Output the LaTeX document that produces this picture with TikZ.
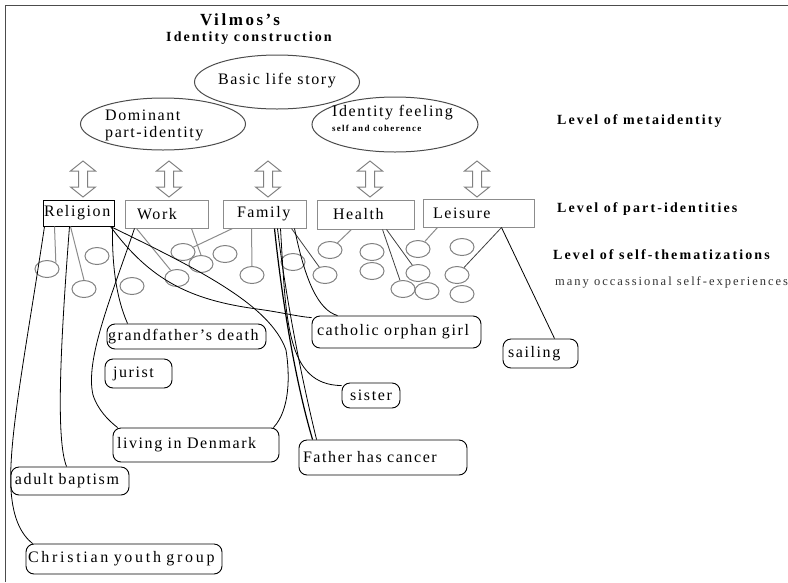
\documentclass[tikz,border=0pt]{standalone}
\usepackage{fontspec}
\setmainfont{Liberation Serif}
\newfontfamily\lbl{Liberation Serif}[LetterSpace=10]
\newfontfamily\hdr{Liberation Serif}[LetterSpace=15]
\newfontfamily\sacfnt{Liberation Serif}[LetterSpace=14]
\newfontfamily\manyfnt{Liberation Serif}[LetterSpace=16]
\newfontfamily\widelbl{Liberation Serif}[LetterSpace=17]
\usetikzlibrary{shapes.geometric,calc}

\tikzset{
  oval/.style={ellipse, draw=black!70, line width=1pt, inner sep=0pt},
  txt/.style={inner sep=0pt, font=\lbl\fontsize{16}{17}\selectfont},
  partbox/.style={draw=black!45, line width=1pt, minimum height=28pt, inner ysep=0pt,
    align=left, font=\lbl\fontsize{16}{18}\selectfont},
  labbox/.style={draw=black, line width=0.9pt, rounded corners=8pt, inner xsep=4pt,
    inner ysep=0pt, align=left, font=\lbl\fontsize{16}{18}\selectfont},
  selfdot/.style={ellipse, draw=black!50, line width=1pt, minimum width=24pt,
    minimum height=17pt, inner sep=0pt},
  levtxt/.style={anchor=west, inner sep=0pt, font=\hdr\bfseries\fontsize{14}{16}\selectfont},
  conn/.style={draw=black, line width=0.8pt},
  stem/.style={draw=black!45, line width=1pt},
  dstem/.style={draw=black!75, line width=0.8pt},
  dblarrow/.pic={\draw[black!50, line width=1pt, line join=miter]
    (0,-18) -- (12.5,-8) -- (4.5,-8) -- (4.5,8) -- (12.5,8) -- (0,18)
    -- (-12.5,8) -- (-4.5,8) -- (-4.5,-8) -- (-12.5,-8) -- cycle;}
}

\begin{document}
\begin{tikzpicture}[x=1pt,y=-1pt]
\useasboundingbox (0,0) rectangle (788,582);
% frame lines
\draw[black!70, line width=1pt] (5,582) -- (5,5) -- (788,5);

% title
\node[inner sep=0pt, font=\hdr\bfseries\fontsize{17}{19}\selectfont] (title1) at (240,20) {Vilmos’s};
\node[inner sep=0pt, font=\hdr\bfseries\fontsize{14}{16}\selectfont] (title2) at (249,38) {Identity construction};

% metaidentity level
\node[oval, minimum width=165pt, minimum height=54pt] (bls) at (277,82) {};
\node[oval, minimum width=165pt, minimum height=52pt] (dom) at (163,124) {};
\node[oval, minimum width=166pt, minimum height=55pt] (idf) at (395,124.5) {};
\node[txt] (blst) at (277,81) {Basic life story};
\node[txt, anchor=west, align=left] (domt) at (105,125.5) {Dominant\\part-identity};
\node[txt, anchor=west] (idft) at (332,113) {Identity feeling};
\node[anchor=west, inner sep=0pt, font=\sacfnt\bfseries\fontsize{9}{10}\selectfont] (sact) at (332,128) {self and coherence};

% double arrows between the levels
\pic (ar1) at (83,179) {dblarrow};
\pic (ar2) at (169,179) {dblarrow};
\pic (ar3) at (268,179) {dblarrow};
\pic (ar4) at (370,179) {dblarrow};
\pic (ar5) at (477,179) {dblarrow};

% part-identities
\node[partbox, draw=black, inner xsep=1pt, text width=69pt, minimum height=26pt] (rel) at (78.5,213) {Religion};
\node[partbox, inner xsep=12pt, text width=59pt] (work) at (166.5,214) {Work};
\node[partbox, inner xsep=14pt, text width=55pt] (fam) at (264.5,214) {Family};
\node[partbox, inner xsep=16pt, text width=65pt, minimum height=29pt] (hea) at (365.5,214.5) {Health};
\node[partbox, inner xsep=10pt, text width=91pt] (lei) at (478.5,213) {Leisure};

% level captions
\node[levtxt] (lev1) at (557,121) {Level of metaidentity};
\node[levtxt] (lev2) at (557,209) {Level of part-identities};
\node[levtxt] (lev3) at (553,255) {Level of self-thematizations};
\node[anchor=west, inner sep=0pt, text=black!80, font=\manyfnt\fontsize{12.5}{14}\selectfont] (lev4) at (555,282) {many occassional self-experiences};

% self-thematizations
\foreach \n/\x/\y in {1/47/269, 2/97/256, 3/84/289, 4/132/286, 5/183/252, 6/201/264,
  7/225/254, 8/177/278, 9/252/275, 10/293/262, 11/330/250, 12/325/275, 13/372/252,
  14/372/271, 15/418/249, 16/418/273, 17/403/289, 18/427/291, 19/462/247, 20/457/275,
  21/462/294}
  \node[selfdot] (c\n) at (\x,\y) {};

% experiences
\node[labbox, inner xsep=1pt, text width=157pt, minimum height=25pt] (gd) at (186.5,336.5) {grandfather’s death};
\node[labbox, inner xsep=8pt, text width=51pt, minimum height=29pt] (jur) at (138.5,373.5) {jurist};
\node[labbox, text width=158pt, minimum height=34pt] (lid) at (196,445) {living in Denmark};
\node[labbox, inner xsep=5pt, text width=159pt, minimum height=32pt] (cog) at (396.5,332) {catholic orphan girl};
\node[labbox, inner xsep=5pt, text width=65pt, minimum height=29pt] (sail) at (540.5,353.5) {sailing};
\node[labbox, align=center, text width=50pt, minimum height=25pt] (sis) at (371,395.5) {sister};
\node[labbox, text width=160pt, minimum height=35pt] (fhc) at (383,457.5) {Father has cancer};
\node[labbox, text width=110pt, minimum height=28pt] (ab) at (70,481) {adult baptism};
\node[labbox, inner xsep=2pt, text width=192pt, minimum height=30pt,
  font=\widelbl\fontsize{16}{18}\selectfont] (cyg) at (124,559) {Christian youth group};

% stems from the part-identities to their self-thematizations
\draw[stem] ([xshift=12pt]rel.south west) -- (c1.north east);
\draw[stem] ([xshift=28pt]rel.south west) -- (c3.north);
\draw[stem] ([xshift=12pt]work.south west) -- (c8);
\draw[stem] ([xshift=67pt]work.south west) -- (c6.north);
\draw[stem] ([xshift=10pt]fam.south west) -- (c5);
\draw[stem] ([xshift=29pt]fam.south west) -- (c9.north);
\draw[stem] ([xshift=35pt]hea.south west) -- (c11);
\draw[stem] ([xshift=15pt]lei.south west) -- (c15);
\draw[dstem] ([xshift=69pt]fam.south west) -- (c12);
\draw[dstem] ([xshift=66pt]hea.south west) -- (c17);
\draw[dstem] ([xshift=70pt]hea.south west) -- (c16);
\draw[dstem] ([xshift=79pt]lei.south west) -- (c20);

% connectors to the experiences
\draw[conn] ([xshift=2pt]rel.south west) .. controls (26,350) and (8,440) .. (11,490)
  .. controls (13,520) and (22,535) .. ([xshift=7pt]cyg.north west);
\draw[conn] ([xshift=27pt]rel.south west) .. controls (60,350) and (56,440) .. ([xshift=56pt]ab.north west);
\draw[conn] ([xshift=-2pt]rel.south east) .. controls (112,260) and (115,295) .. ([xshift=21pt]gd.north west);
\draw[conn] ([xshift=-4pt]rel.south east) .. controls (200,270) and (270,305) .. (286,350)
  .. controls (290,375) and (290,410) .. ([xshift=-6pt]lid.north east);
\draw[conn] ([xshift=-4pt]rel.south east) .. controls (150,280) and (190,300) .. (257,309)
  .. controls (280,312) and (300,317) .. ([yshift=-2pt]cog.north west);
\draw[conn] ([xshift=10pt]work.south west) .. controls (110,300) and (85,360) .. (93,395)
  .. controls (98,410) and (108,420) .. ([xshift=5pt]lid.north west);
\draw[conn, line width=1.2pt] ([xshift=52pt]fam.south west) .. controls (282,300) and (295,380) .. ([xshift=14pt]fhc.north west);
\draw[conn] ([xshift=55pt]fam.south west) .. controls (286,300) and (302,380) .. ([xshift=18pt]fhc.north west);
\draw[conn] ([xshift=58pt]fam.south west) .. controls (286,320) and (286,385) .. ([yshift=-3pt]sis.north west);
\draw[conn] ([xshift=72pt]fam.south west) .. controls (305,280) and (318,310) .. ([xshift=26pt]cog.north west);
\draw[conn] ([xshift=79pt]lei.south west) -- ([xshift=52pt]sail.north west);
\end{tikzpicture}
\end{document}
